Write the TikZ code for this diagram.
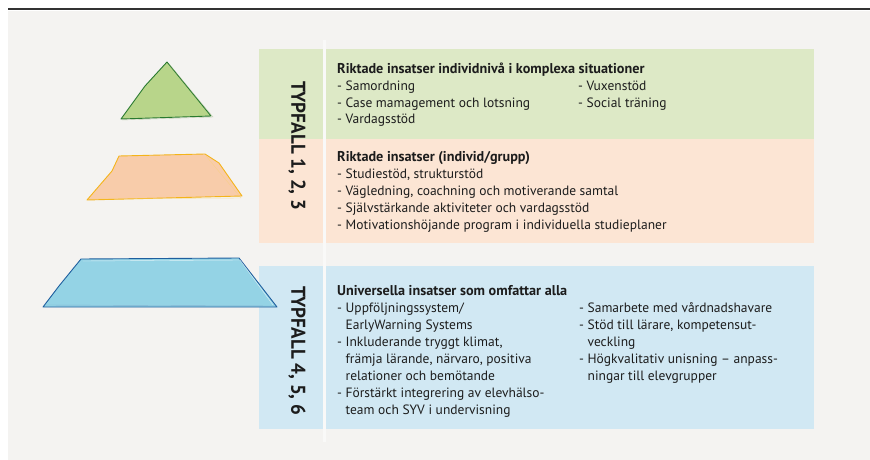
\documentclass[tikz,border=0pt]{standalone}
\usepackage{fontspec}
\setmainfont{PT Sans}
\usetikzlibrary{positioning}

\definecolor{bgGrey}{HTML}{F4F3F1}
\definecolor{panelGreen}{HTML}{DDE9C6}
\definecolor{panelOrange}{HTML}{FCE5D4}
\definecolor{panelBlue}{HTML}{D1E8F3}
\definecolor{triGreen}{HTML}{B8D58A}
\definecolor{triGreenLine}{HTML}{2A7A30}
\definecolor{trapOrange}{HTML}{F8CCAA}
\definecolor{trapOrangeLine}{HTML}{F4B41A}
\definecolor{trapBlue}{HTML}{94D3E5}
\definecolor{trapBlueLine}{HTML}{1E5E9E}
\definecolor{inkText}{HTML}{1C1C1C}

\tikzset{
  body/.style={anchor=north west, align=left, inner sep=0pt, text=inkText,
    font=\fontsize{13.5}{16.9}\selectfont},
  typfall/.style={rotate=-90, inner sep=0pt, text=inkText,
    font=\fontsize{20}{22}\selectfont\bfseries},
  sketch/.style={line width=0.9pt, line join=round},
}

\newcommand{\hang}{\phantom{- }}
\newcommand{\firstln}{\rule{0pt}{11pt}}
\newcommand{\heading}[1]{{\fontsize{14.2}{16.9}\selectfont\bfseries #1}}
\newcommand{\narrowcaps}[1]{\scalebox{0.95}[1]{#1}}

\begin{document}
\begin{tikzpicture}[x=1pt,y=-1pt]
\useasboundingbox (0,0) rectangle (870,460);

% frame
\fill[bgGrey] (8,11) rectangle (870,460);
\draw[line width=2pt, black!80] (8,9) -- (870,9);

% panels
\fill[panelGreen] (259,49) rectangle (814,139);
\fill[panelOrange] (259,139) rectangle (814,243);
\fill[panelBlue] (259,266) rectangle (814,429);
\draw[line width=3pt, white!50!bgGrey] (324,40) -- (324,442);

% pyramid pieces
\filldraw[sketch, fill=triGreen, draw=triGreenLine]
  (167,62) -- (145,86) -- (121,119) -- (211,116) -- cycle;
\draw[triGreen!80!black, opacity=0.5] (169,64) -- (213,117) -- (122,120);

\filldraw[sketch, fill=trapOrange, draw=trapOrangeLine]
  (119,156) -- (205,154) -- (219,163) -- (242,196) -- (87,200) -- (112,171) -- cycle;
\draw[trapOrangeLine!60, opacity=0.6] (206,156) -- (241,198) -- (90,199);

\filldraw[sketch, fill=trapBlue, draw=trapBlueLine]
  (81,259) -- (239,258) -- (277,307) -- (43,307) -- (59,286) -- cycle;
\draw[white, opacity=0.7] (83,261) -- (240,260) -- (273,305);
\draw[trapBlueLine!60, opacity=0.6] (45,305) -- (275,306);

% side labels
\node[typfall] (typA) at (297,146) {\narrowcaps{TYPFALL 1, 2, 3}};
\node[typfall] (typB) at (297,351) {\narrowcaps{TYPFALL 4, 5, 6}};

% level 3
\node[body] (greenTxt) at (337,62) {\firstln\heading{Riktade insatser individnivå i komplexa situationer}\\
- Samordning\\
- Case mamagement och lotsning\\
- Vardagsstöd};
\node[body] (greenTxtB) at (578,79) {\firstln- Vuxenstöd\\
- Social träning};

% level 2
\node[body] (orangeTxt) at (337,150.7) {\firstln\heading{Riktade insatser (individ/grupp)}\\
- Studiestöd, strukturstöd\\
- Vägledning, coachning och motiverande samtal\\
- Självstärkande aktiviteter och vardagsstöd\\
- Motivationshöjande program i individuella studieplaner};

% level 1
\node[body] (blueTxt) at (337,284.7) {\firstln\heading{Universella insatser som omfattar alla}\\
- Uppföljningssystem/\\
\hang EarlyWarning Systems\\
- Inkluderande tryggt klimat,\\
\hang främja lärande, närvaro, positiva\\
\hang relationer och bemötande\\
- Förstärkt integrering av elevhälso-\\
\hang team och SYV i undervisning};
\node[body] (blueTxtB) at (579,301.7) {\firstln- Samarbete med vårdnadshavare\\
- Stöd till lärare, kompetensut-\\
\hang veckling\\
- Högkvalitativ unisning -- anpass-\\
\hang ningar till elevgrupper};
\end{tikzpicture}
\end{document}
